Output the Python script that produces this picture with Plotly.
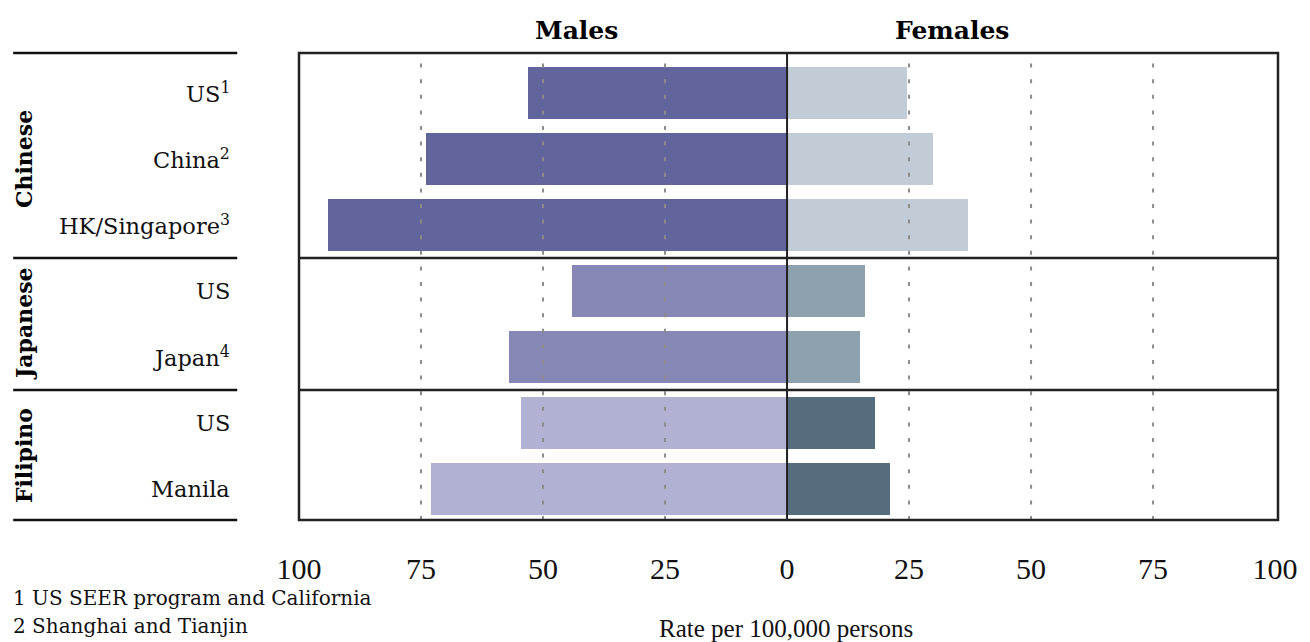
import plotly.graph_objects as go

# ---- data ----
groups = ["Chinese", "Japanese", "Filipino"]
group_sizes = [3, 2, 2]
places = ["US<sup>1</sup>", "China<sup>2</sup>", "HK/Singapore<sup>3</sup>",
          "US", "Japan<sup>4</sup>", "US", "Manila"]
males = [53, 74, 94, 44, 57, 54.5, 73]
females = [24.5, 30, 37, 16, 15, 18, 21]
male_group_colors = ["#62659B", "#8787B5", "#B1B1D3"]
female_group_colors = ["#C2CCD6", "#8DA1AE", "#566D80"]
tick_vals = [-100, -75, -50, -25, 0, 25, 50, 75, 100]
tick_text = ["100", "75", "50", "25", "0", "25", "50", "75", "100"]
grid_vals = [-75, -50, -25, 25, 50, 75]
footnotes = ["1 US SEER program and California", "2 Shanghai and Tianjin"]
title_text = "Lung cancer age-adjusted incidence rates by sex, birth country, and region,"
x_title = "Rate per 100,000 persons"

# ---- build ----
rows = list(range(len(places)))
male_colors, female_colors = [], []
for g, n in enumerate(group_sizes):
    male_colors += [male_group_colors[g]] * n
    female_colors += [female_group_colors[g]] * n

W, H = 1310, 642
ML, MR, MT, MB = 299, 28, 53, 122
PW, PH = W - ML - MR, H - MT - MB


def px_x(p):
    return (p - ML) / PW


def px_y(p):
    return (H - MB - p) / PH


serif = "DejaVu Serif"
tserif = "Liberation Serif"

fig = go.Figure()
fig.add_trace(go.Bar(orientation="h", y=rows, x=[-v for v in males],
                     marker=dict(color=male_colors, line=dict(width=0)),
                     width=0.79, showlegend=False, hoverinfo="skip"))
fig.add_trace(go.Bar(orientation="h", y=rows, x=females,
                     marker=dict(color=female_colors, line=dict(width=0)),
                     width=0.79, showlegend=False, hoverinfo="skip"))

shapes = []
for gv in grid_vals:
    shapes.append(dict(type="line", xref="x", yref="paper", x0=gv, x1=gv, y0=0, y1=1,
                       line=dict(color="#8c8c8c", width=2, dash="4px,11.6px"), layer="above"))
shapes.append(dict(type="line", xref="x", yref="paper", x0=0, x1=0, y0=0, y1=1,
                   line=dict(color="#222222", width=2), layer="above"))
bounds = []
c = 0
for n in group_sizes[:-1]:
    c += n
    bounds.append(c - 0.5)
for b in bounds:
    shapes.append(dict(type="line", xref="paper", yref="y", x0=0, x1=1, y0=b, y1=b,
                       line=dict(color="#222222", width=2.5), layer="above"))
    shapes.append(dict(type="line", xref="paper", yref="y", x0=px_x(12), x1=px_x(237), y0=b, y1=b,
                       line=dict(color="#111111", width=2.5), layer="above"))
for yy in [0, 1]:
    shapes.append(dict(type="line", xref="paper", yref="paper", x0=px_x(12), x1=px_x(237), y0=yy, y1=yy,
                       line=dict(color="#111111", width=2.5), layer="above"))
shapes.append(dict(type="rect", xref="paper", yref="paper", x0=0, x1=1, y0=0, y1=1,
                   line=dict(color="#222222", width=2.5), layer="above"))

ann = []
for r, lab in zip(rows, places):
    ann.append(dict(text=lab, xref="paper", yref="y", x=px_x(232), y=r, xanchor="right",
                    yanchor="middle", showarrow=False, font=dict(family=serif, size=22.5, color="#111111")))
start = 0
for g, n in zip(groups, group_sizes):
    center = start + (n - 1) / 2
    ann.append(dict(text="<b>%s</b>" % g, xref="paper", yref="y", x=px_x(23), y=center,
                    textangle=-90, xanchor="center", yanchor="middle", showarrow=False,
                    font=dict(family=serif, size=22, color="#000000")))
    start += n
ann.append(dict(text="<b>Males</b>", xref="paper", yref="paper", x=px_x(578), y=px_y(30),
                xanchor="center", yanchor="middle", showarrow=False,
                font=dict(family=serif, size=25, color="#000000")))
ann.append(dict(text="<b>Females</b>", xref="paper", yref="paper", x=px_x(955), y=px_y(30),
                xanchor="center", yanchor="middle", showarrow=False,
                font=dict(family=serif, size=25, color="#000000")))
for i, fn in enumerate(footnotes):
    ann.append(dict(text=fn, xref="paper", yref="paper", x=px_x(10), y=px_y(598 + 28 * i),
                    xanchor="left", yanchor="middle", showarrow=False,
                    font=dict(family=serif, size=20, color="#111111")))
ann.append(dict(text=x_title, xref="paper", yref="paper", x=px_x(788), y=px_y(628),
                xanchor="center", yanchor="middle", showarrow=False,
                font=dict(family=tserif, size=25, color="#111111")))
ann.append(dict(text="<b>%s</b>" % title_text, xref="paper", yref="paper", x=px_x(12), y=px_y(2.9),
                xanchor="left", yanchor="bottom", showarrow=False,
                font=dict(family=serif, size=24, color="#000000")))

fig.update_layout(
    width=W, height=H,
    margin=dict(l=ML, r=MR, t=MT, b=MB, pad=0),
    paper_bgcolor="white", plot_bgcolor="white",
    barmode="overlay", bargap=0,
    xaxis=dict(range=[-100, 100.6], tickvals=tick_vals, ticktext=tick_text,
               showgrid=False, zeroline=False, showline=False,
               ticks="outside", ticklen=22, tickcolor="rgba(0,0,0,0)",
               tickfont=dict(family=tserif, size=30, color="#111111"), fixedrange=True),
    yaxis=dict(range=[6.47, -0.606], showticklabels=False, showgrid=False,
               zeroline=False, showline=False, fixedrange=True),
    shapes=shapes, annotations=ann,
)

fig.write_html("out.html", config={"displayModeBar": False},
               post_script="document.body.style.margin='0';document.body.style.overflow='hidden';")
